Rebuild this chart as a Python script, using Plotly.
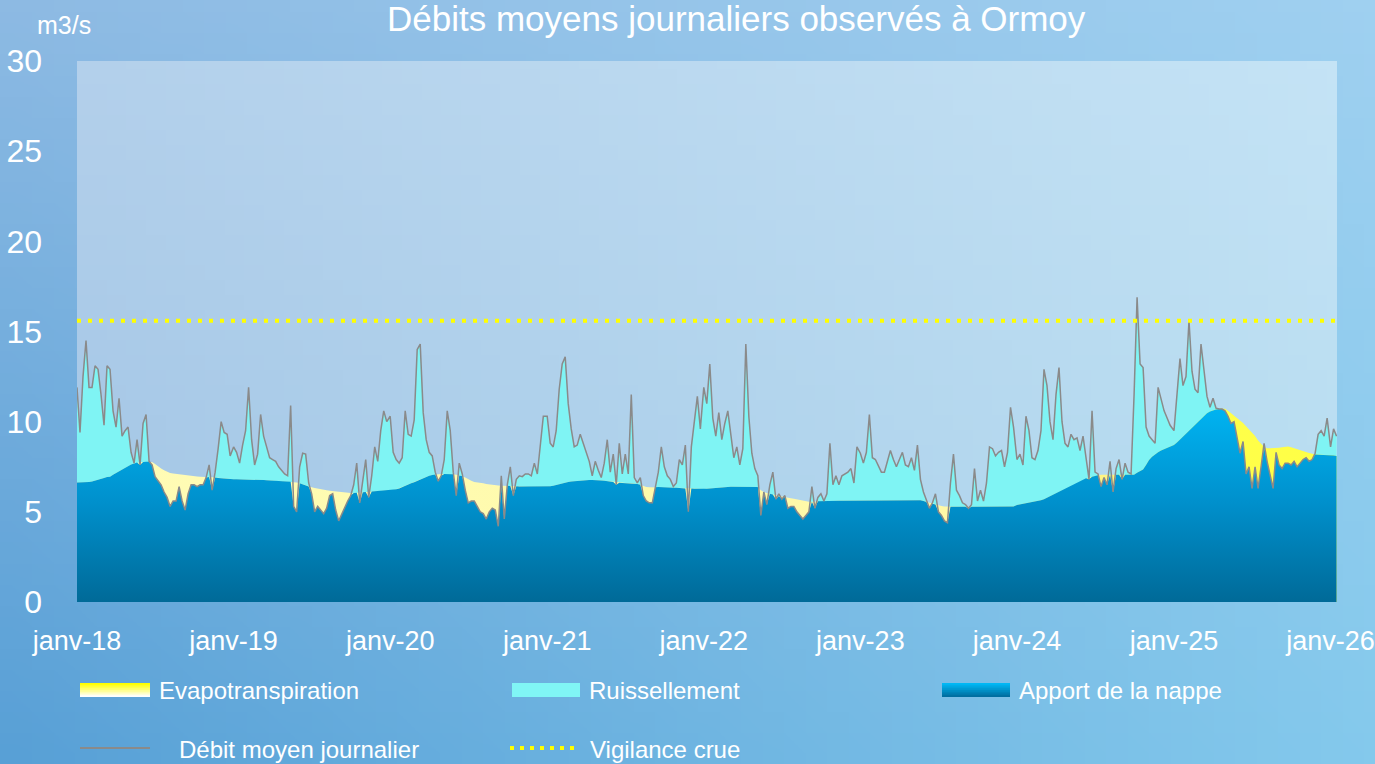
import base64
import struct
import zlib

import numpy as np
import pandas as pd
import plotly.graph_objects as go

# ---------------- data (weekly readings, m3/s) ----------------
years = [2018, 2019, 2020, 2021, 2022, 2023, 2024, 2025, 2026]

debit_2018 = [11.9, 9.4, 12.5, 14.5, 11.9, 11.9, 13.1, 12.9, 11.5, 9.8, 13.1, 12.9, 10.6, 9.7,
              11.3, 9.2, 9.5, 9.7, 8.3, 7.7, 9.0, 7.6, 9.9, 10.4, 7.8, 7.6, 6.95, 6.7, 6.5, 6.1,
              5.8, 5.3, 5.6, 5.6, 6.4, 5.6, 5.1, 6.0, 6.5, 6.5, 6.4, 6.5, 6.5, 6.9, 7.6, 6.2,
              7.2, 8.5, 10.0, 9.4, 9.3, 8.1]
debit_2019 = [8.6, 8.3, 7.7, 8.7, 9.5, 11.9, 9.0, 7.6, 8.2, 10.4, 9.2, 8.6, 8.0, 7.9, 7.8, 7.5,
              7.3, 7.1, 7.0, 10.9, 5.3, 5.0, 7.5, 8.25, 8.2, 6.6, 6.0, 5.0, 5.3, 5.1, 4.9, 5.2,
              5.9, 6.0, 5.1, 4.5, 4.9, 5.2, 5.6, 5.9, 6.5, 7.7, 5.5, 6.7, 7.9, 5.8, 7.0, 8.6,
              7.8, 9.5, 10.6, 10.0]
debit_2020 = [10.3, 8.3, 7.9, 7.7, 8.0, 10.6, 9.3, 9.2, 10.1, 14.0, 14.3, 10.5, 9.0, 8.3, 8.1,
              7.2, 6.7, 7.0, 7.9, 10.6, 9.5, 7.2, 5.9, 7.7, 7.1, 6.2, 5.5, 5.6, 5.6, 5.3, 5.0,
              4.9, 4.6, 5.0, 5.2, 5.1, 4.2, 7.0, 4.6, 6.5, 7.5, 5.9, 6.8, 7.0, 6.95, 7.1, 7.1,
              7.0, 7.7, 7.1, 8.7, 10.3]
debit_2021 = [10.3, 8.8, 8.6, 9.5, 11.8, 13.2, 13.6, 11.0, 9.6, 8.6, 8.7, 9.3, 8.8, 8.3, 7.8,
              7.0, 7.8, 7.3, 6.9, 7.7, 9.0, 7.2, 8.2, 6.5, 8.8, 7.1, 8.2, 7.1, 11.5, 6.9, 6.6,
              6.9, 5.9, 5.6, 5.5, 5.5, 6.4, 7.2, 8.6, 7.5, 7.0, 6.8, 6.4, 6.6, 7.9, 7.6, 8.7,
              5.0, 8.6, 9.9, 11.4, 9.6]
debit_2022 = [11.9, 11.0, 13.2, 10.2, 9.2, 10.5, 9.0, 9.9, 10.6, 9.3, 8.0, 8.6, 7.6, 8.5, 14.3,
              10.3, 8.25, 7.4, 7.0, 4.8, 6.1, 5.4, 6.5, 7.2, 5.7, 6.0, 5.7, 5.9, 5.2, 5.3, 5.3,
              5.0, 4.8, 4.6, 4.8, 5.0, 6.4, 5.2, 5.8, 6.0, 5.6, 6.0, 8.8, 6.5, 7.0, 6.5, 7.0,
              7.1, 7.2, 7.4, 6.6, 8.6]
debit_2023 = [8.25, 7.7, 8.3, 10.4, 8.0, 7.9, 7.5, 7.2, 7.2, 7.8, 8.4, 7.9, 7.5, 7.9, 8.3, 7.6,
              7.5, 8.0, 7.3, 8.7, 6.8, 6.1, 5.6, 5.2, 5.5, 6.0, 5.0, 4.8, 4.5, 4.4, 6.6, 8.2,
              6.2, 5.9, 5.5, 5.4, 5.2, 5.4, 7.4, 5.6, 6.2, 5.6, 6.6, 8.6, 8.5, 8.1, 8.3, 8.4,
              7.5, 8.3, 10.8, 9.7]
debit_2024 = [7.9, 8.2, 7.6, 10.3, 9.5, 8.0, 7.9, 8.4, 9.5, 12.9, 12.0, 10.0, 9.0, 11.5, 13.0,
              10.0, 8.8, 8.6, 9.3, 9.0, 9.1, 8.4, 9.2, 7.9, 6.8, 10.6, 7.2, 7.1, 6.4, 6.9, 6.5,
              7.8, 6.1, 7.4, 7.9, 6.8, 7.7, 7.2, 7.1, 11.5, 16.9, 13.2, 13.0, 9.7, 9.2, 9.0, 8.8,
              11.9, 11.3, 10.6, 10.2, 9.8]
debit_2025 = [9.5, 11.4, 13.5, 12.0, 12.5, 15.6, 12.8, 11.8, 11.6, 14.3, 12.9, 11.4, 10.8, 11.3,
              10.75, 10.7, 10.7, 10.6, 10.3, 9.9, 10.0, 9.1, 8.25, 8.9, 7.1, 7.5, 6.3, 7.5, 6.3,
              7.5, 8.8, 7.8, 7.1, 6.3, 8.3, 7.6, 7.4, 7.7, 7.7, 7.6, 7.8, 7.5, 7.7, 7.9, 8.0, 7.8,
              7.9, 8.25, 9.3, 9.5, 9.2, 10.2]
debit_2026 = [8.6, 9.6, 9.2]

nappe_2018 = [6.62, 6.62, 6.63, 6.64, 6.66, 6.68, 6.72, 6.77, 6.82, 6.87, 6.93, 6.95, 7.05, 7.15,
              7.25, 7.35, 7.45, 7.55, 7.62, 7.68, 7.73, 7.75, 7.77, 7.78, 7.78, 7.76, 7.65, 7.5,
              7.4, 7.3, 7.22, 7.16, 7.12, 7.1, 7.07, 7.04, 7.0, 6.99, 6.98, 6.97, 6.96, 6.95,
              6.95, 6.94, 6.93, 6.92, 6.9, 6.88, 6.86, 6.84, 6.83, 6.81]
nappe_2019 = [6.8, 6.8, 6.8, 6.79, 6.79, 6.78, 6.78, 6.77, 6.77, 6.77, 6.76, 6.75, 6.74, 6.73,
              6.72, 6.71, 6.7, 6.69, 6.68, 6.67, 6.65, 6.62, 6.58, 6.52, 6.45, 6.4, 6.36, 6.32,
              6.28, 6.25, 6.22, 6.2, 6.17, 6.15, 6.12, 6.1, 6.08, 6.05, 6.04, 6.04, 6.05, 6.06,
              6.07, 6.08, 6.1, 6.12, 6.13, 6.14, 6.15, 6.16, 6.17, 6.18]
nappe_2020 = [6.2, 6.21, 6.25, 6.3, 6.38, 6.45, 6.52, 6.58, 6.64, 6.72, 6.8, 6.88, 6.95, 7.0,
              7.04, 7.07, 7.09, 7.1, 7.1, 7.1, 7.1, 7.08, 7.05, 7.02, 6.98, 6.9, 6.8, 6.72, 6.66,
              6.62, 6.6, 6.58, 6.55, 6.52, 6.5, 6.48, 6.46, 6.45, 6.44, 6.44, 6.43, 6.42, 6.42,
              6.41, 6.41, 6.4, 6.4, 6.4, 6.4, 6.4, 6.4, 6.4]
nappe_2021 = [6.4, 6.42, 6.45, 6.5, 6.55, 6.6, 6.63, 6.66, 6.68, 6.7, 6.72, 6.74, 6.75, 6.76,
              6.77, 6.77, 6.77, 6.76, 6.74, 6.72, 6.7, 6.67, 6.65, 6.63, 6.61, 6.6, 6.59, 6.58,
              6.58, 6.57, 6.55, 6.5, 6.42, 6.38, 6.36, 6.36, 6.37, 6.38, 6.38, 6.37, 6.36, 6.35,
              6.34, 6.33, 6.32, 6.31, 6.3, 6.3, 6.29, 6.28, 6.27, 6.26]
nappe_2022 = [6.26, 6.28, 6.3, 6.32, 6.34, 6.35, 6.36, 6.37, 6.38, 6.39, 6.39, 6.4, 6.4, 6.4,
              6.4, 6.4, 6.4, 6.4, 6.38, 6.2, 6.1, 6.05, 6.0, 5.96, 5.92, 5.88, 5.85, 5.83, 5.8,
              5.76, 5.72, 5.68, 5.64, 5.61, 5.58, 5.56, 5.56, 5.57, 5.58, 5.59, 5.6, 5.6, 5.6,
              5.6, 5.61, 5.61, 5.61, 5.61, 5.62, 5.62, 5.62, 5.62]
nappe_2023 = [5.62, 5.62, 5.63, 5.63, 5.63, 5.63, 5.64, 5.64, 5.64, 5.64, 5.65, 5.65, 5.65, 5.65,
              5.65, 5.65, 5.65, 5.65, 5.65, 5.65, 5.64, 5.6, 5.55, 5.5, 5.45, 5.4, 5.36, 5.33,
              5.3, 5.29, 5.28, 5.28, 5.28, 5.28, 5.28, 5.28, 5.28, 5.28, 5.28, 5.28, 5.28, 5.28,
              5.28, 5.28, 5.29, 5.29, 5.29, 5.29, 5.3, 5.3, 5.3, 5.3]
nappe_2024 = [5.38, 5.41, 5.45, 5.48, 5.51, 5.55, 5.58, 5.61, 5.64, 5.7, 5.78, 5.86, 5.95, 6.03,
              6.12, 6.2, 6.28, 6.36, 6.45, 6.53, 6.61, 6.69, 6.78, 6.86, 6.91, 6.95, 6.99, 7.03,
              7.05, 7.05, 7.05, 7.05, 7.05, 7.05, 7.05, 7.05, 7.05, 7.06, 7.06, 7.06, 7.17, 7.25,
              7.35, 7.6, 7.87, 8.05, 8.2, 8.3, 8.4, 8.48, 8.56, 8.63]
nappe_2025 = [8.71, 8.84, 9.0, 9.15, 9.35, 9.5, 9.65, 9.82, 10.0, 10.15, 10.33, 10.47, 10.56,
              10.64, 10.68, 10.71, 10.73, 10.72, 10.6, 10.47, 10.34, 10.2, 10.05, 9.92, 9.75,
              9.58, 9.42, 9.2, 8.95, 8.75, 8.6, 8.52, 8.52, 8.52, 8.52, 8.55, 8.58, 8.61, 8.62,
              8.58, 8.52, 8.47, 8.43, 8.38, 8.32, 8.26, 8.22, 8.18, 8.16, 8.16, 8.16, 8.15]
nappe_2026 = [8.13, 8.12, 8.1]

vigilance_crue = 15.6

tick_years = [2018, 2019, 2020, 2021, 2022, 2023, 2024, 2025, 2026]
tick_text = ["janv-18", "janv-19", "janv-20", "janv-21", "janv-22", "janv-23", "janv-24",
             "janv-25", "janv-26"]

debit_lists = [debit_2018, debit_2019, debit_2020, debit_2021, debit_2022, debit_2023,
               debit_2024, debit_2025, debit_2026]
nappe_lists = [nappe_2018, nappe_2019, nappe_2020, nappe_2021, nappe_2022, nappe_2023,
               nappe_2024, nappe_2025, nappe_2026]

# weekly dates, restarting on 1 January of each year
dates = []
for y, vals in zip(years, debit_lists):
    start = pd.Timestamp(f"{y}-01-01")
    dates += [start + pd.Timedelta(days=7 * k) for k in range(len(vals))]
dates = pd.DatetimeIndex(dates)

debit = np.concatenate([np.asarray(v, float) for v in debit_lists])
nappe = np.concatenate([np.asarray(v, float) for v in nappe_lists])
base = np.minimum(debit, nappe)

# ---------------- styling helpers ----------------
W, H = 1375, 764
ML, MR, MT, MB = 77, 38, 61, 162
PW, PH = W - ML - MR, H - MT - MB
FONT = "Liberation Sans, Arial, sans-serif"


def px(x):
    return (x - ML) / PW


def py(y):
    return (H - MB - y) / PH


def hex2rgb(h):
    h = h.lstrip("#")
    return [int(h[i:i + 2], 16) for i in (0, 2, 4)]


def gradient_png(w, h, tl, tr, bl, br):
    tl, tr, bl, br = map(hex2rgb, (tl, tr, bl, br))
    raw = bytearray()
    for j in range(h):
        fy = j / (h - 1)
        raw.append(0)
        for i in range(w):
            fx = i / (w - 1)
            for k in range(3):
                top = tl[k] * (1 - fx) + tr[k] * fx
                bot = bl[k] * (1 - fx) + br[k] * fx
                raw.append(int(round(top * (1 - fy) + bot * fy)))

    def chunk(t, data):
        c = struct.pack(">I", len(data)) + t + data
        return c + struct.pack(">I", zlib.crc32(t + data) & 0xFFFFFFFF)

    png = (b"\x89PNG\r\n\x1a\n"
           + chunk(b"IHDR", struct.pack(">IIBBBBB", w, h, 8, 2, 0, 0, 0))
           + chunk(b"IDAT", zlib.compress(bytes(raw)))
           + chunk(b"IEND", b""))
    return "data:image/png;base64," + base64.b64encode(png).decode()


page_bg = gradient_png(64, 36, "#8dbae3", "#9fd0f0", "#58a0d6", "#84c9ec")
plot_bg = gradient_png(64, 36, "#b3d0eb", "#c4e3f5", "#a2c5e5", "#b6dcf0")

fig = go.Figure()

# Ruissellement (cyan) under the observed flow
fig.add_trace(go.Scatter(x=dates, y=debit, mode="lines", line=dict(width=0),
                         fill="tozeroy", fillcolor="#7ff4f4", hoverinfo="skip"))
# Evapotranspiration (yellow) under the groundwater contribution
fig.add_trace(go.Scatter(x=dates, y=nappe, mode="lines", line=dict(width=0),
                         fill="tozeroy", hoverinfo="skip",
                         fillgradient=dict(type="horizontal",
                                           colorscale=[[0, "#fffcb6"], [0.7, "#fff9a6"],
                                                       [0.84, "#fff47a"], [0.9, "#ffff4a"],
                                                       [1, "#ffff45"]])))
# Apport de la nappe (blue) under min(flow, groundwater)
fig.add_trace(go.Scatter(x=dates, y=base, mode="lines", line=dict(width=0),
                         fill="tozeroy", hoverinfo="skip",
                         fillgradient=dict(type="vertical", start=0, stop=11,
                                           colorscale=[[0, "#006a98"], [0.5, "#0090cc"],
                                                       [1, "#00b5f3"]])))
# Débit moyen journalier
fig.add_trace(go.Scatter(x=dates, y=debit, mode="lines",
                         line=dict(color="#8a8a8a", width=1.5), hoverinfo="skip"))
# Vigilance crue
fig.add_trace(go.Scatter(x=[dates[0], pd.Timestamp("2026-01-16")],
                         y=[vigilance_crue, vigilance_crue], mode="lines",
                         line=dict(color="#ffff00", width=4, dash="4px,7px"),
                         hoverinfo="skip"))

axis_font = dict(family=FONT, color="white")
fig.update_layout(
    width=W, height=H,
    margin=dict(l=ML, r=MR, t=MT, b=MB, autoexpand=False),
    template="none",
    showlegend=False,
    paper_bgcolor="#78b2e0",
    plot_bgcolor="rgba(0,0,0,0)",
    xaxis=dict(type="date", range=["2018-01-01", "2026-01-16"],
               tickvals=[f"{y}-01-01" for y in tick_years], ticktext=tick_text,
               showgrid=False, zeroline=False, showline=False, ticks="",
               tickfont=dict(axis_font, size=27), ticklabelstandoff=20,
               ticklabeloverflow="allow", automargin=False),
    yaxis=dict(range=[0, 30], tickvals=[0, 5, 10, 15, 20, 25, 30],
               showgrid=False, zeroline=False, showline=False, ticks="",
               tickfont=dict(axis_font, size=32), ticklabelstandoff=34, automargin=False),
    images=[
        dict(source=page_bg, xref="paper", yref="paper", x=px(0), y=py(0),
             sizex=W / PW, sizey=H / PH, xanchor="left", yanchor="top",
             sizing="stretch", layer="below"),
        dict(source=plot_bg, xref="paper", yref="paper", x=0, y=1, sizex=1, sizey=1,
             xanchor="left", yanchor="top", sizing="stretch", layer="below"),
    ],
)

annotations = [
    dict(text="Débits moyens journaliers observés à Ormoy", x=px(736), y=py(19),
         font=dict(family=FONT, size=35, color="white")),
    dict(text="m3/s", x=px(64), y=py(25), font=dict(family=FONT, size=25, color="white")),
    dict(text="Evapotranspiration", x=px(157), y=py(690), xanchor="left",
         font=dict(family=FONT, size=24, color="white")),
    dict(text="Ruissellement", x=px(587), y=py(690), xanchor="left",
         font=dict(family=FONT, size=24, color="white")),
    dict(text="Apport de la nappe", x=px(1017), y=py(690), xanchor="left",
         font=dict(family=FONT, size=24, color="white")),
    dict(text="Débit moyen journalier", x=px(177), y=py(749), xanchor="left",
         font=dict(family=FONT, size=24, color="white")),
    dict(text="Vigilance crue", x=px(588), y=py(749), xanchor="left",
         font=dict(family=FONT, size=24, color="white")),
]
for a in annotations:
    a.update(xref="paper", yref="paper", showarrow=False)
    a.setdefault("xanchor", "center")
    a.setdefault("yanchor", "middle")
fig.update_layout(annotations=annotations)

shapes = []


def grad_rect(x0, x1, y0, y1, top, bottom, steps=8):
    t, b = hex2rgb(top), hex2rgb(bottom)
    hstep = (y1 - y0) / steps
    for s in range(steps):
        f = s / (steps - 1)
        c = [round(t[k] * (1 - f) + b[k] * f) for k in range(3)]
        y_top = y0 + s * hstep
        y_bot = min(y1, y0 + (s + 1) * hstep + 0.8)
        shapes.append(dict(type="rect", xref="paper", yref="paper",
                           x0=px(x0), x1=px(x1), y0=py(y_bot), y1=py(y_top),
                           line=dict(width=0), fillcolor=f"rgb({c[0]},{c[1]},{c[2]})"))


grad_rect(80, 150, 683, 697, "#ffff00", "#ffffff")
shapes.append(dict(type="rect", xref="paper", yref="paper", x0=px(512), x1=px(580),
                   y0=py(697), y1=py(683), line=dict(width=0), fillcolor="#80f5f5"))
grad_rect(942, 1010, 683, 697, "#00b8f5", "#006ea0")
shapes.append(dict(type="line", xref="paper", yref="paper", x0=px(80), x1=px(150),
                   y0=py(748), y1=py(748), line=dict(color="#8a8a8a", width=2)))
shapes.append(dict(type="line", xref="paper", yref="paper", x0=px(510), x1=px(580),
                   y0=py(748), y1=py(748),
                   line=dict(color="#ffff00", width=4, dash="4px,6px")))
fig.update_layout(shapes=shapes)

fig.write_html("out.html",
               config={"displayModeBar": False, "staticPlot": True},
               post_script="document.body.style.margin='0';"
                           "document.body.style.overflow='hidden';")
